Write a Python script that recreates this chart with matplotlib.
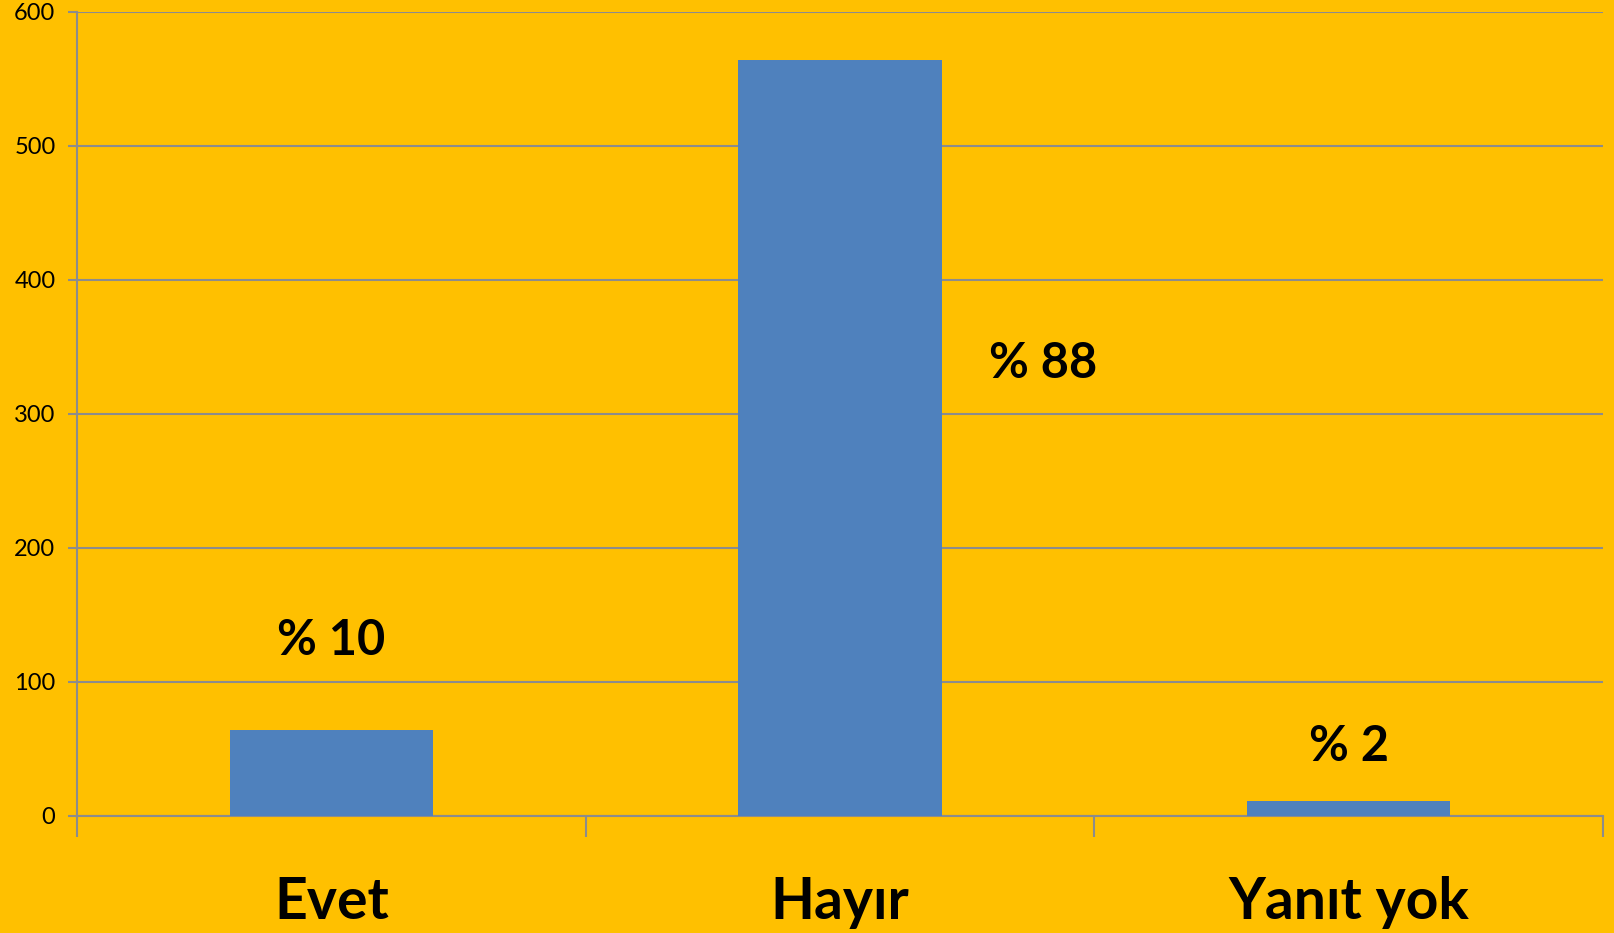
import matplotlib
matplotlib.use("Agg")
import matplotlib.pyplot as plt

categories = ["Evet", "Hayır", "Yanıt yok"]
values = [64, 564, 11]
pct_labels = ["% 10", "% 88", "% 2"]
label_y = [131, 338, 52]
label_dx = [0, 0.4, 0]
yticks = [0, 100, 200, 300, 400, 500, 600]

plt.rcParams['font.family'] = ['Lato', 'DejaVu Sans']
BG = "#FFC000"
BAR = "#4F81BD"
GRID = "#8C8C8C"

fig = plt.figure(figsize=(16.15, 9.33), dpi=100, facecolor=BG)
ax = fig.add_axes([77/1615, 1-816/933, (1603-77)/1615, (816-12)/933])
ax.set_facecolor(BG)

x = list(range(len(categories)))
ax.bar(x, values, width=0.4, color=BAR, zorder=3)

ax.set_xlim(-0.5, len(categories)-0.5)
ax.set_ylim(0, 600)
ax.set_yticks(yticks)
ax.set_yticklabels([str(t) for t in yticks], fontsize=17)
ax.yaxis.grid(True, color=GRID, linewidth=1.5, zorder=0)
ax.set_axisbelow(True)
ax.tick_params(axis='y', length=6.5, width=1.5, color=GRID, pad=9)

ax.set_xticks(x)
ax.set_xticklabels(categories, fontsize=41, fontweight='bold')
ax.set_xticks([i - 0.5 for i in range(len(categories)+1)], minor=True)
ax.tick_params(axis='x', which='major', length=0, pad=43)
ax.tick_params(axis='x', which='minor', length=15, width=1.5, color=GRID)

for s in ['top', 'right']:
    ax.spines[s].set_visible(False)
for s in ['left', 'bottom']:
    ax.spines[s].set_color(GRID)
    ax.spines[s].set_linewidth(1.5)

for i, (lab, ly, dx) in enumerate(zip(pct_labels, label_y, label_dx)):
    ax.text(i + dx, ly, lab, ha='center', va='center', fontsize=35, fontweight='bold', zorder=4)

fig.savefig("out.png", dpi=100, facecolor=BG)
